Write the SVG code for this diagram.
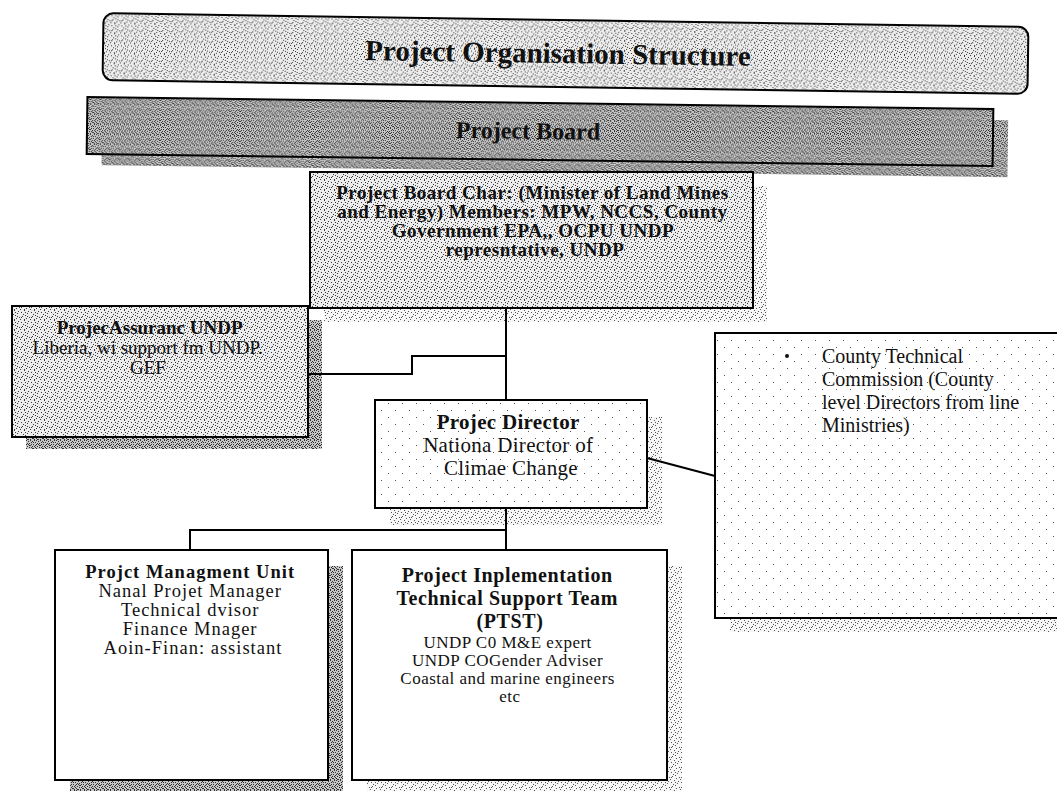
<svg xmlns="http://www.w3.org/2000/svg" width="1057" height="791" viewBox="0 0 1057 791">
  <defs>
    <!-- stipple fills -->
    <pattern id="stipMid" width="10" height="10" patternUnits="userSpaceOnUse">
      <rect width="10" height="10" fill="#ececec"/>
      <path fill="#3a3a3a" d="M1 2h1v1h-1z M4 0h1v1h-1z M7 3h1v1h-1z M2 6h1v1h-1z M9 7h1v1h-1z M5 5h1v1h-1z M0 9h1v1h-1z M6 8h1v1h-1z M3 4h1v1h-1z M8 1h1v1h-1z M5 2h1v1h-1z M1 7h1v1h-1z M7 6h1v1h-1z M4 9h1v1h-1z"/>
    </pattern>
    <pattern id="stipDark" width="10" height="10" patternUnits="userSpaceOnUse">
      <rect width="10" height="10" fill="#c6c6c6"/>
      <path fill="#303030" d="M1 2h1v1h-1z M4 0h1v1h-1z M7 3h1v1h-1z M2 6h1v1h-1z M9 7h1v1h-1z M5 5h1v1h-1z M0 9h1v1h-1z M6 8h1v1h-1z M3 4h1v1h-1z M8 1h1v1h-1z M5 2h1v1h-1z M1 7h1v1h-1z M7 6h1v1h-1z M4 9h1v1h-1z M0 0h1v1h-1z M2 1h1v1h-1z M6 0h1v1h-1z M9 3h1v1h-1z M3 2h1v1h-1z M8 4h1v1h-1z M0 5h1v1h-1z M4 6h1v1h-1z M6 4h1v1h-1z M2 8h1v1h-1z M8 9h1v1h-1z M5 7h1v1h-1z M9 5h1v1h-1z M1 4h1v1h-1z M7 9h1v1h-1z M3 8h1v1h-1z"/>
    </pattern>
    <pattern id="stipSparse" width="14" height="14" patternUnits="userSpaceOnUse">
      <rect width="14" height="14" fill="#ffffff"/>
      <path fill="#555" d="M3 4h1v1h-1z M10 11h1v1h-1z"/>
    </pattern>
    <pattern id="shadeLight" width="10" height="10" patternUnits="userSpaceOnUse">
      <rect width="10" height="10" fill="#f6f6f6"/>
      <path fill="#555" d="M1 2h1v1h-1z M4 0h1v1h-1z M7 3h1v1h-1z M2 6h1v1h-1z M9 7h1v1h-1z M5 5h1v1h-1z M0 9h1v1h-1z M6 8h1v1h-1z M3 4h1v1h-1z M8 1h1v1h-1z M5 2h1v1h-1z M1 7h1v1h-1z"/>
    </pattern>
  </defs>
  <style>
    .frame { stroke: #000; stroke-width: 2; }
    .link { fill: none; stroke: #000; stroke-width: 2; }
    text { font-family: "Liberation Serif", "Times New Roman", serif; fill: #111; text-anchor: middle; }
    .b { font-weight: bold; }
  </style>

  <rect width="1057" height="791" fill="#fff"/>

  <!-- heading banner -->
  <g id="title" transform="rotate(0.85 565 53)">
    <rect class="frame" x="103" y="20" width="925" height="67" rx="10" fill="url(#stipMid)"/>
    <text class="b" x="558" y="63" font-size="29">Project Organisation Structure</text>
  </g>

  <!-- board bar -->
  <g id="board" transform="rotate(0.76 540 132)">
    <rect x="102" y="114" width="906" height="57" fill="url(#stipDark)"/>
    <rect class="frame" x="87" y="103" width="906" height="57" fill="url(#stipDark)"/>
    <text class="b" x="528" y="139" font-size="24">Project Board</text>
  </g>

  <!-- board chair -->
  <g id="chair">
    <rect x="324" y="186" width="443" height="136" fill="url(#shadeLight)"/>
    <rect class="frame" x="310" y="172" width="443" height="136" fill="url(#stipMid)"/>
    <text class="b" font-size="19" letter-spacing="0.5">
      <tspan x="535" y="199">Project Board Char: (Minister of Land Mines</tspan>
      <tspan x="535" y="218">and Energy) Members: MPW, NCCS, County</tspan>
      <tspan x="535" y="237">Government EPA,, OCPU   UNDP</tspan>
      <tspan x="535" y="256">represntative, UNDP</tspan>
    </text>
  </g>

  <!-- project assurance -->
  <g id="assurance">
    <rect x="26" y="320" width="296" height="129" fill="url(#stipDark)"/>
    <rect class="frame" x="12" y="306" width="296" height="131" fill="url(#stipMid)"/>
    <text font-size="19">
      <tspan x="152" y="334" class="b">ProjecAssuranc UNDP</tspan>
      <tspan x="150" y="354">Liberia, wi support fm UNDP.</tspan>
      <tspan x="148" y="374">GEF</tspan>
    </text>
  </g>

  <!-- project director -->
  <g id="director">
    <rect x="390" y="417" width="272" height="108" fill="url(#shadeLight)"/>
    <rect class="frame" x="375" y="400" width="272" height="108" fill="url(#stipSparse)"/>
    <text font-size="21" letter-spacing="0.3">
      <tspan x="511" y="429" class="b">Projec Director</tspan>
      <tspan x="511" y="452">Nationa Director of</tspan>
      <tspan x="511" y="475">Climae Change</tspan>
    </text>
  </g>

  <!-- county commission -->
  <g id="county">
    <rect x="730" y="348" width="340" height="284" fill="url(#shadeLight)"/>
    <rect class="frame" x="715" y="333" width="350" height="285" fill="url(#stipSparse)"/>
    <circle cx="787" cy="356" r="2" fill="#111"/>
    <text font-size="20" style="text-anchor:start">
      <tspan x="822" y="363">County Technical</tspan>
      <tspan x="822" y="386">Commission (County</tspan>
      <tspan x="822" y="409">level Directors from line</tspan>
      <tspan x="822" y="432">Ministries)</tspan>
    </text>
  </g>

  <!-- management unit -->
  <g id="pmu">
    <rect x="70" y="566" width="273" height="230" fill="url(#stipDark)"/>
    <rect class="frame" x="55" y="550" width="273" height="230" fill="#fff"/>
    <text font-size="18.5" letter-spacing="1">
      <tspan x="193" y="578" class="b">Projct Managment Unit</tspan>
      <tspan x="193" y="597">Nanal Projet Manager</tspan>
      <tspan x="193" y="616">Technical dvisor</tspan>
      <tspan x="193" y="635">Finance Mnager</tspan>
      <tspan x="193" y="654">Aoin-Finan: assistant</tspan>
    </text>
  </g>

  <!-- implementation support team -->
  <g id="pitst">
    <rect x="367" y="566" width="315" height="230" fill="url(#shadeLight)"/>
    <rect class="frame" x="352" y="550" width="315" height="230" fill="#fff"/>
    <text font-size="20" class="b" letter-spacing="0.6">
      <tspan x="510" y="582">Project Inplementation</tspan>
      <tspan x="510" y="605">Technical Support Team</tspan>
      <tspan x="510" y="628">(PTST)</tspan>
    </text>
    <text font-size="17" letter-spacing="0.5">
      <tspan x="510" y="648">UNDP C0 M&amp;E expert</tspan>
      <tspan x="510" y="666">UNDP COGender Adviser</tspan>
      <tspan x="510" y="684">Coastal and marine engineers</tspan>
      <tspan x="510" y="702">etc</tspan>
    </text>
  </g>

  <!-- connectors -->
  <g id="connectors">
    <line class="link" x1="506" y1="308" x2="506" y2="400"/>
    <polyline class="link" points="308,374 412,374 412,356 506,356"/>
    <line class="link" x1="647" y1="458" x2="715" y2="476"/>
    <line class="link" x1="506" y1="508" x2="506" y2="550"/>
    <polyline class="link" points="506,530 190,530 190,550"/>
  </g>
</svg>
